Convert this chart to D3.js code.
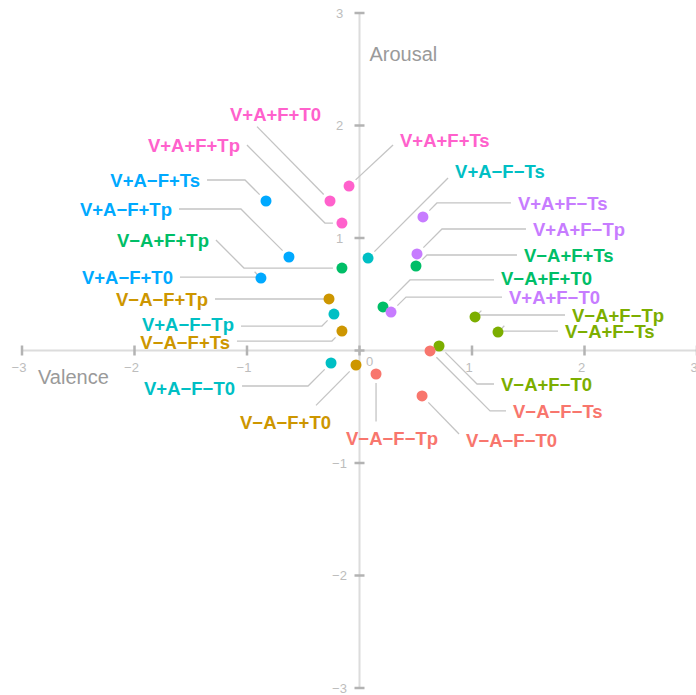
<!DOCTYPE html>
<html>
<head>
<meta charset="utf-8">
<script src="https://cdn.jsdelivr.net/npm/d3@7"></script>
<style>
  body { margin: 0; background: #fff; }
  svg { display: block; }
</style>
</head>
<body>
<svg id="chart" width="696" height="695"></svg>
<script>
// condition names, one per point
const conditions = [
  'V+A+F+Ts', 'V+A+F+T0', 'V+A+F+Tp',
  'V+A−F+Ts', 'V+A−F+Tp', 'V+A−F+T0',
  'V−A+F+Tp', 'V−A+F+Ts', 'V−A+F+T0',
  'V+A+F−Ts', 'V+A+F−Tp', 'V+A+F−T0',
  'V+A−F−Ts', 'V+A−F−Tp', 'V+A−F−T0',
  'V−A−F+Tp', 'V−A−F+Ts', 'V−A−F+T0',
  'V−A+F−Tp', 'V−A+F−Ts', 'V−A+F−T0',
  'V−A−F−Ts', 'V−A−F−Tp', 'V−A−F−T0'
];

// valence (x) and arousal (y)
const valence = [
  -0.093, -0.262, -0.156,
  -0.831, -0.627, -0.876,
  -0.156, 0.502, 0.209,
  0.564, 0.511, 0.280,
  0.076, -0.227, -0.253,
  -0.271, -0.156, -0.031,
  1.027, 1.231, 0.707,
  0.627, 0.147, 0.556
];
const arousal = [
  1.462, 1.329, 1.133,
  1.329, 0.831, 0.644,
  0.733, 0.751, 0.387,
  1.187, 0.858, 0.342,
  0.822, 0.324, -0.111,
  0.458, 0.173, -0.129,
  0.298, 0.164, 0.040,
  -0.004, -0.209, -0.404
];

// colour groups (the V/A/F pattern) and their palette
const groups = ['V−A−F−', 'V−A−F+', 'V−A+F−', 'V−A+F+', 'V+A−F−', 'V+A−F+', 'V+A+F−', 'V+A+F+'];
const palette = ['#F8766D', '#CD9600', '#7CAE00', '#00BE67', '#00BFC4', '#00A9FF', '#C77CFF', '#FF61CC'];

const tickValues = [-3, -2, -1, 0, 1, 2, 3];

// label placement (pixel offsets from the point to the text), repel-style
// [name, dx, dy, anchor, bend, attach, extra]
const labelLayout = [
  ['V+A+F+Ts', 51, -46, 'start', 'none', 'side', 5],
  ['V+A+F+T0', -9, -87, 'end', 'none', 'bottom', -73],
  ['V+A+F+Tp', -102, -78, 'end', 'label', 'side', 0],
  ['V+A−F+Ts', -66, -21, 'end', 'point', 'side', 0],
  ['V+A−F+Tp', -117, -48, 'end', 'point', 'side', 0],
  ['V+A−F+T0', -88, -1, 'end', 'point', 'side', 0],
  ['V−A+F+Tp', -133, -28, 'end', 'label', 'side', 0],
  ['V−A+F+Ts', 108, -11, 'start', 'point', 'side', 0],
  ['V−A+F+T0', 118, -29, 'start', 'point', 'side', 2],
  ['V+A+F−Ts', 95, -14, 'start', 'point', 'side', 0],
  ['V+A+F−Tp', 116, -25, 'start', 'point', 'side', 0],
  ['V+A+F−T0', 118, -15, 'start', 'point', 'side', 0],
  ['V+A−F−Ts', 87, -87, 'start', 'none', 'side', 7],
  ['V+A−F−Tp', -100, 10, 'end', 'point', 'side', 2],
  ['V+A−F−T0', -96, 25, 'end', 'point', 'side', -2],
  ['V−A−F+Tp', -121, 0, 'end', 'point', 'side', 0],
  ['V−A−F+Ts', -112, 11, 'end', 'point', 'side', -1],
  ['V−A−F+T0', -25, 57, 'end', 'none', 'top', -40],
  ['V−A+F−Tp', 97, -2, 'start', 'point', 'side', 0],
  ['V−A+F−Ts', 67, -1, 'start', 'point', 'side', 0],
  ['V−A+F−T0', 62, 38, 'start', 'point', 'side', 0],
  ['V−A−F−Ts', 83, 60, 'start', 'point', 'side', 0],
  ['V−A−F−Tp', -30, 64, 'start', 'none', 'top', 0],
  ['V−A−F−T0', 44, 44, 'start', 'none', 'side', -6]
];

const AXIS_LINE = '#dcdcdc';
const TICK = '#b3b3b3';
const TICK_TEXT = '#bdbdbd';
const TITLE = '#9a9a9a';
const SEGMENT = '#c4c4c4';
const FONT = '"Liberation Sans", Arial, sans-serif';

const svg = d3.select('#chart');

const x = d3.scaleLinear().domain([-3, 3]).range([22, 697]);
const y = d3.scaleLinear().domain([-3, 3]).range([688, 13]);
const color = d3.scaleOrdinal().domain(groups).range(palette);

const points = conditions.map((name, i) => ({
  name,
  v: valence[i],
  a: arousal[i],
  group: name.slice(0, 6)
}));
const layoutMap = {};
labelLayout.forEach(l => { layoutMap[l[0]] = l; });

// axes through the origin
const axes = svg.append('g');
axes.append('line')
  .attr('x1', x(-3)).attr('x2', x(3))
  .attr('y1', y(0)).attr('y2', y(0))
  .attr('stroke', AXIS_LINE).attr('stroke-width', 2);
axes.append('line')
  .attr('x1', x(0)).attr('x2', x(0))
  .attr('y1', y(-3)).attr('y2', y(3))
  .attr('stroke', AXIS_LINE).attr('stroke-width', 2);

// x ticks
axes.selectAll('.xtick')
  .data(tickValues)
  .join('line')
  .attr('x1', d => x(d)).attr('x2', d => x(d))
  .attr('y1', y(0) - 5).attr('y2', y(0) + 5)
  .attr('stroke', TICK).attr('stroke-width', 2.5);
axes.selectAll('.xlab')
  .data(tickValues)
  .join('text')
  .attr('x', d => d === 0 ? x(d) + 10 : x(d) - 3)
  .attr('y', d => d === 0 ? y(0) + 15 : y(0) + 21)
  .attr('text-anchor', 'middle')
  .attr('font-family', FONT)
  .attr('font-size', 13)
  .attr('fill', TICK_TEXT)
  .text(d => d < 0 ? '−' + Math.abs(d) : d);

// y ticks (no label at 0)
axes.selectAll('.ytick')
  .data(tickValues)
  .join('line')
  .attr('x1', x(0) - 5).attr('x2', x(0) + 5)
  .attr('y1', d => y(d)).attr('y2', d => y(d))
  .attr('stroke', TICK).attr('stroke-width', 2.5);
axes.selectAll('.ylab')
  .data(tickValues.filter(d => d !== 0))
  .join('text')
  .attr('x', x(0) - 20)
  .attr('y', d => y(d))
  .attr('dy', '0.36em')
  .attr('text-anchor', 'middle')
  .attr('font-family', FONT)
  .attr('font-size', 13)
  .attr('fill', TICK_TEXT)
  .text(d => d < 0 ? '−' + Math.abs(d) : d);

// axis titles
axes.append('text')
  .attr('x', x(0) + 10).attr('y', 61)
  .attr('font-family', FONT).attr('font-size', 20)
  .attr('fill', TITLE)
  .text('Arousal');
axes.append('text')
  .attr('x', 38).attr('y', y(0) + 33)
  .attr('font-family', FONT).attr('font-size', 20)
  .attr('fill', TITLE)
  .text('Valence');

// labels first (so they can be measured), then segments and points beneath
const labelG = svg.append('g');
const labels = labelG.selectAll('text')
  .data(points)
  .join('text')
  .attr('x', d => x(d.v) + layoutMap[d.name][1])
  .attr('y', d => y(d.a) + layoutMap[d.name][2])
  .attr('dy', '0.36em')
  .attr('text-anchor', d => layoutMap[d.name][3])
  .attr('font-family', FONT)
  .attr('font-weight', 'bold')
  .attr('font-size', 18.5)
  .attr('fill', d => color(d.group))
  .text(d => d.name);

const CAP = 6.6;   // half cap height
const PAD = 7;     // gap between text and segment
const GAP = 9;     // gap between segment and point

function segmentPath(d, node) {
  const [, dx, dy, anchor, bend, attach, extra] = layoutMap[d.name];
  const px = x(d.v), py = y(d.a);
  const tx = px + dx, ty = py + dy;
  const w = node.getComputedTextLength();
  const left = anchor === 'start' ? tx : tx - w;
  const right = left + w;
  let sx, sy;
  if (attach === 'side') {
    sx = px < left ? left - PAD : right + PAD;
    sy = ty + extra;
  } else if (attach === 'bottom') {
    sx = px + extra;
    sy = ty + CAP + 6;
  } else {
    sx = px + extra;
    sy = ty - CAP - 10;
  }
  const pts = [[sx, sy]];
  const sgn = Math.sign(px - sx);
  if (bend === 'point') {
    pts.push([px - sgn * Math.abs(py - sy), sy]);
  } else if (bend === 'label') {
    pts.push([sx + sgn * Math.abs(py - sy), py]);
  }
  const last = pts[pts.length - 1];
  const len = Math.hypot(px - last[0], py - last[1]);
  pts.push([px - (px - last[0]) / len * GAP, py - (py - last[1]) / len * GAP]);
  return d3.line()(pts);
}

const segG = svg.insert('g', () => labelG.node());
labels.each(function (d) {
  segG.append('path')
    .attr('d', segmentPath(d, this))
    .attr('fill', 'none')
    .attr('stroke', SEGMENT)
    .attr('stroke-width', 1.3);
});

// points
svg.insert('g', () => labelG.node())
  .selectAll('circle')
  .data(points)
  .join('circle')
  .attr('cx', d => x(d.v))
  .attr('cy', d => y(d.a))
  .attr('r', 5.5)
  .attr('fill', d => color(d.group));
</script>
</body>
</html>
